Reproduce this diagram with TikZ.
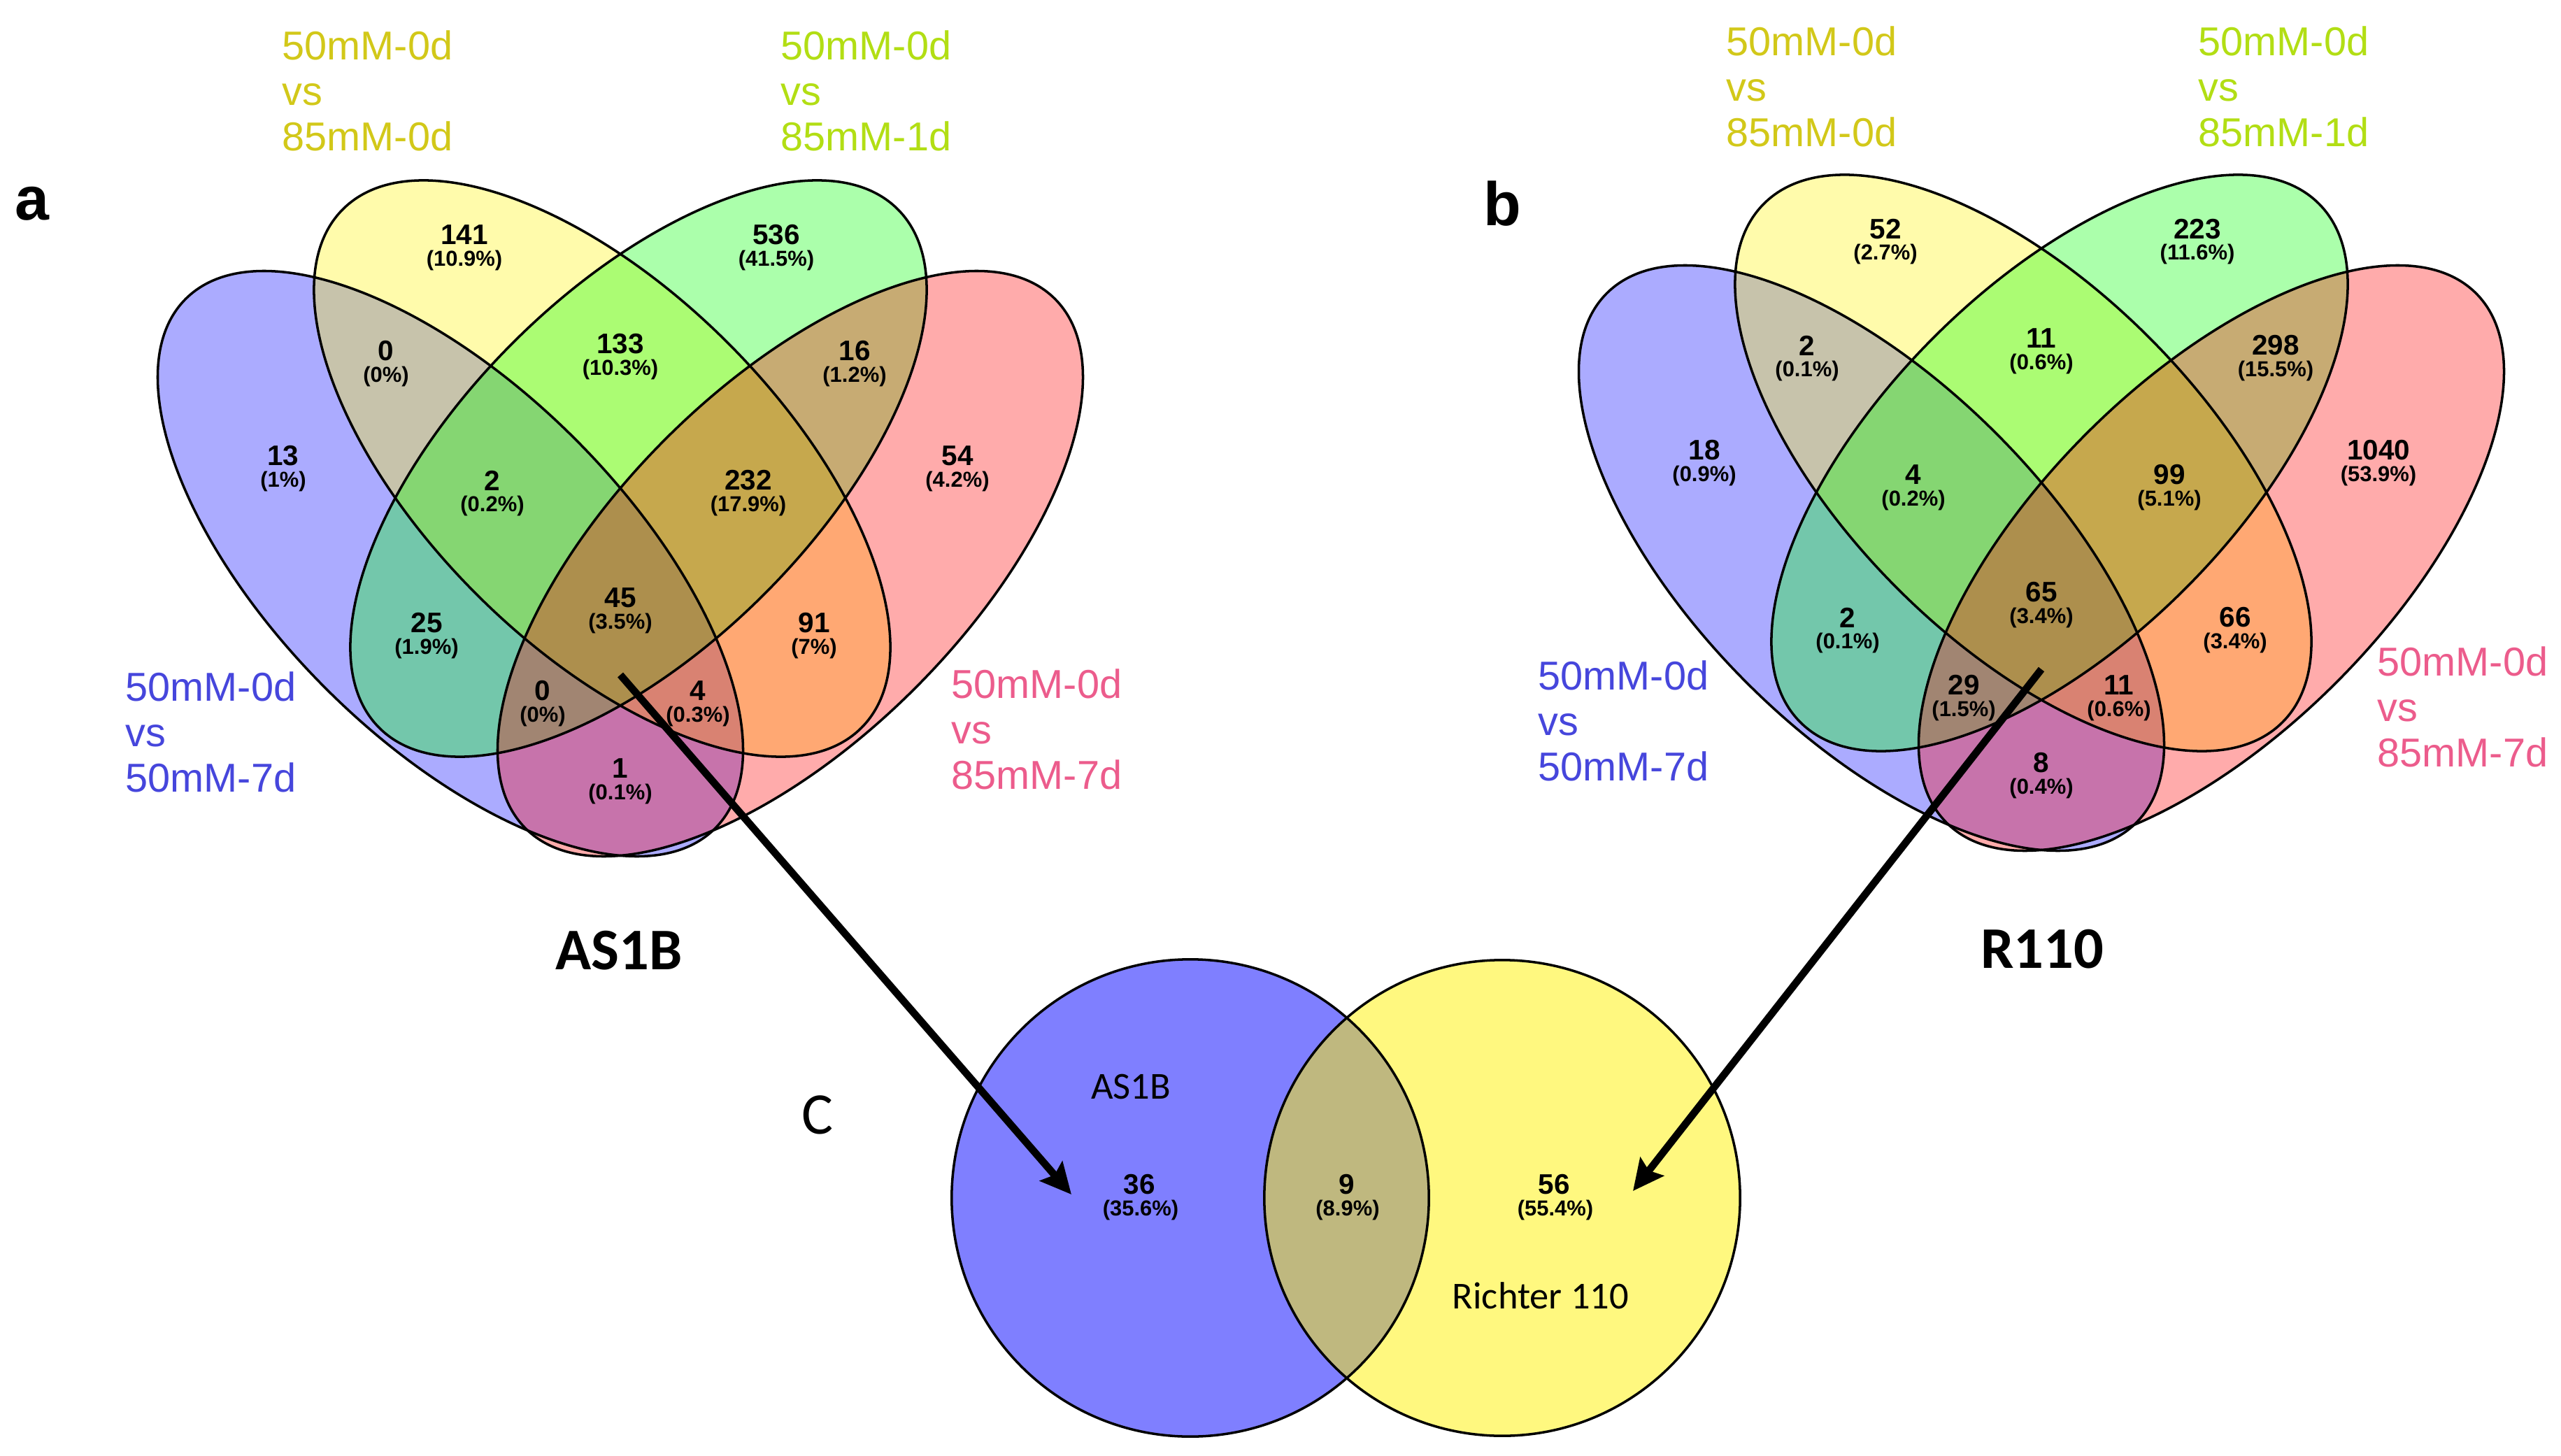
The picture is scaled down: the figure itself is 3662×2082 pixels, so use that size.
\documentclass[tikz,border=0pt]{standalone}
\usepackage{fontspec}
\setmainfont{Liberation Sans}
\newfontfamily\calfont{Carlito}
\usetikzlibrary{arrows.meta}

\definecolor{labyellow}{RGB}{210,200,25}
\definecolor{labgreen}{RGB}{178,222,20}
\definecolor{labblue}{RGB}{70,70,220}
\definecolor{labred}{RGB}{236,92,140}

\tikzset{
  vset/.style={fill=#1, fill opacity=0.33, draw=none},
  vline/.style={draw=black, line width=1pt},
  twoset/.style={fill=#1, fill opacity=0.5, draw=none},
  num/.style={inner sep=0pt, font=\fontsize{11.5}{12}\selectfont\bfseries},
  pct/.style={inner sep=0pt, font=\fontsize{8.8}{9}\selectfont\bfseries},
  setlab/.style={anchor=west, align=left, inner sep=0pt, font=\fontsize{16.4}{18.5}\selectfont},
  panel/.style={inner sep=0pt, font=\fontsize{25}{26}\selectfont\bfseries},
  title/.style={inner sep=0pt, font=\calfont\fontsize{24}{26}\selectfont\bfseries},
  bigarrow/.style={line width=3pt, -{Stealth[length=12.5pt, width=12pt, inset=2pt]}}
}

\begin{document}
\begin{tikzpicture}[x=0.01cm, y=-0.01cm]
  \useasboundingbox (0,0) rectangle (3662,2082);

  % four-set diagrams, a and b
  \foreach \sx/\sy/\tag in {887/0/a, 2919/-8/b} {
    \begin{scope}[shift={(\sx,\sy)}]
      \fill[vset=blue, rotate around={-45:(-243,806)}] (-243,806) ellipse[x radius=5.35cm, y radius=2.52cm];
      \fill[vset=yellow, rotate around={-45:(-26,670)}] (-26,670) ellipse[x radius=5.24cm, y radius=2.54cm];
      \fill[vset=green, rotate around={45:(26,670)}] (26,670) ellipse[x radius=5.24cm, y radius=2.54cm];
      \fill[vset=red, rotate around={45:(243,806)}] (243,806) ellipse[x radius=5.35cm, y radius=2.52cm];
      \draw[vline, rotate around={-45:(-243,806)}] (-243,806) ellipse[x radius=5.35cm, y radius=2.52cm];
      \draw[vline, rotate around={-45:(-26,670)}] (-26,670) ellipse[x radius=5.24cm, y radius=2.54cm];
      \draw[vline, rotate around={45:(26,670)}] (26,670) ellipse[x radius=5.24cm, y radius=2.54cm];
      \draw[vline, rotate around={45:(243,806)}] (243,806) ellipse[x radius=5.35cm, y radius=2.52cm];
      \coordinate (\tag-core) at (0,965);
    \end{scope}
  }

  % counts of AS1B
  \begin{scope}[shift={(887,0)}]
    \foreach \dx/\dy/\n/\p [count=\i] in {-223/336/141/10.9, 223/336/536/41.5,
        -335/502/0/0, 0/492/133/10.3, 335/502/16/1.2,
        -482/652/13/1, -183/687/2/0.2, 183/687/232/17.9, 482/652/54/4.2,
        -277/891/25/1.9, 0/855/45/3.5, 277/891/91/7,
        -111/988/0/0, 111/988/4/0.3, 0/1099/1/0.1} {
      \node[num] (a\i) at (\dx,\dy) {\n};
      \node[pct] (ap\i) at (\dx,\dy+36) {(\p\%)};
    }
  \end{scope}

  % counts of R110
  \begin{scope}[shift={(2919,-8)}]
    \foreach \dx/\dy/\n/\p [count=\i] in {-223/336/52/2.7, 223/336/223/11.6,
        -335/502/2/0.1, 0/492/11/0.6, 335/502/298/15.5,
        -482/652/18/0.9, -183/687/4/0.2, 183/687/99/5.1, 482/652/1040/53.9,
        -277/891/2/0.1, 0/855/65/3.4, 277/891/66/3.4,
        -111/988/29/1.5, 111/988/11/0.6, 0/1099/8/0.4} {
      \node[num] (b\i) at (\dx,\dy) {\n};
      \node[pct] (bp\i) at (\dx,\dy+36) {(\p\%)};
    }
  \end{scope}

  % set labels
  \node[setlab, text=labyellow] (a-ylab) at (403,130) {50mM-0d\\vs\\85mM-0d};
  \node[setlab, text=labgreen] (a-glab) at (1116,130) {50mM-0d\\vs\\85mM-1d};
  \node[setlab, text=labblue] (a-blab) at (179,1047) {50mM-0d\\vs\\50mM-7d};
  \node[setlab, text=labred] (a-rlab) at (1360,1043) {50mM-0d\\vs\\85mM-7d};
  \node[setlab, text=labyellow] (b-ylab) at (2468,124) {50mM-0d\\vs\\85mM-0d};
  \node[setlab, text=labgreen] (b-glab) at (3143,124) {50mM-0d\\vs\\85mM-1d};
  \node[setlab, text=labblue] (b-blab) at (2199,1031) {50mM-0d\\vs\\50mM-7d};
  \node[setlab, text=labred] (b-rlab) at (3399,1011) {50mM-0d\\vs\\85mM-7d};

  \node[panel] (pa) at (46,291) {a};
  \node[panel] (pb) at (2148,291) {b};
  \node[title] (as1b) at (885,1359) {AS1B};
  \node[title] (r110) at (2920,1357) {R110};

  % two-set diagram c
  \fill[twoset=blue] (1702,1713) circle[radius=3.41cm];
  \fill[twoset=yellow] (2148,1713) circle[radius=3.40cm];
  \draw[vline] (1702,1713) circle[radius=3.41cm];
  \draw[vline] (2148,1713) circle[radius=3.40cm];

  \node[inner sep=0pt, font=\calfont\fontsize{24}{26}\selectfont] (pc) at (1169,1594) {C};
  \node[inner sep=0pt, font=\calfont\fontsize{15.5}{17}\selectfont] (c-as1b) at (1617,1554) {AS1B};
  \node[inner sep=0pt, font=\calfont\fontsize{15.5}{17}\selectfont] (c-r110) at (2203,1853) {Richter 110};
  \node[num] (c1) at (1629,1694) {36};
  \node[pct] (cp1) at (1631,1730) {(35.6\%)};
  \node[num] (c2) at (1926,1694) {9};
  \node[pct] (cp2) at (1927,1730) {(8.9\%)};
  \node[num] (c3) at (2222,1694) {56};
  \node[pct] (cp3) at (2224,1730) {(55.4\%)};

  % arrows
  \coordinate (a-end) at (1532,1708);
  \coordinate (b-end) at (2335,1703);
  \draw[bigarrow] (a-core) -- (a-end);
  \draw[bigarrow] (b-core) -- (b-end);
\end{tikzpicture}
\end{document}
